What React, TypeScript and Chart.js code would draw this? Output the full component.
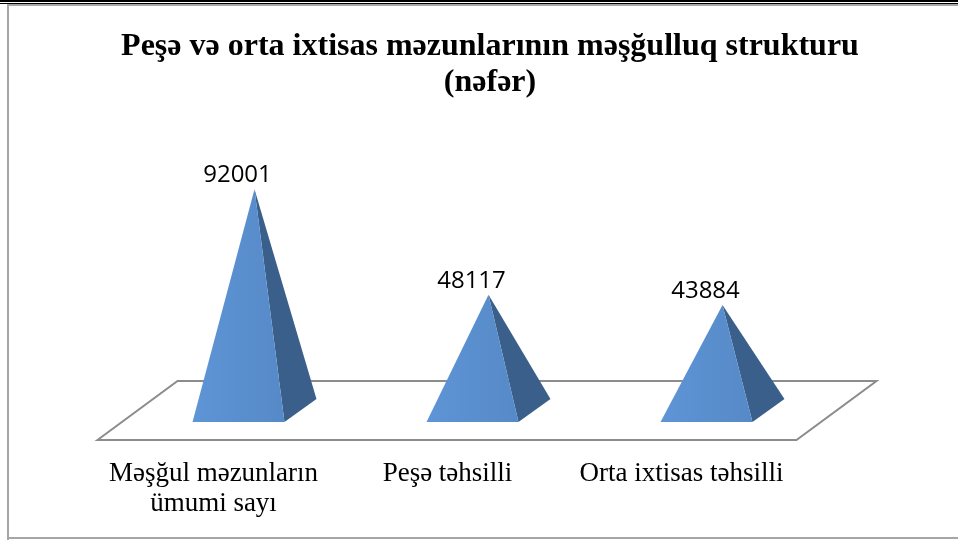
import React, { useEffect, useRef } from "react";
import { Chart, registerables } from "chart.js";

Chart.register(...registerables);

const titleLines = ["Peşə və orta ixtisas məzunlarının məşğulluq strukturu", "(nəfər)"];
const categories = [["Məşğul məzunların", "ümumi sayı"], "Peşə təhsilli", "Orta ixtisas təhsilli"];
const values = [92001, 48117, 43884];

const SIDE = "#3b5f8b";

const framePlugin = {
  id: "frame",
  beforeDraw(chart: any) {
    const { ctx, width, height } = chart;
    ctx.save();
    ctx.fillStyle = "#ffffff";
    ctx.fillRect(0, 0, width, height);
    ctx.fillStyle = "#000000";
    ctx.fillRect(0, 0, width, 2);
    ctx.fillRect(0, 3, width, 1);
    ctx.fillStyle = "#a6a6a6";
    ctx.fillRect(7, 4, width, 2);
    ctx.fillRect(7, 4, 2, height - 4);
    ctx.fillRect(7, height - 3, width, 2);
    ctx.restore();
  },
  beforeDatasetsDraw(chart: any) {
    const { ctx, chartArea } = chart;
    const y0 = chart.scales.y.getPixelForValue(0);
    const cat = (chartArea.right - chartArea.left) / values.length;
    const dx = cat * 0.342 / 2;
    const dy = cat * 0.252 / 2;
    ctx.save();
    ctx.strokeStyle = "#8c8c8c";
    ctx.lineWidth = 2;
    ctx.beginPath();
    ctx.moveTo(chartArea.left - dx, y0 + dy);
    ctx.lineTo(chartArea.left + dx, y0 - dy);
    ctx.lineTo(chartArea.right + dx - 3, y0 - dy);
    ctx.lineTo(chartArea.right - dx - 3, y0 + dy);
    ctx.closePath();
    ctx.stroke();
    ctx.restore();
  },
  afterDatasetsDraw(chart: any) {
    const { ctx } = chart;
    const meta = chart.getDatasetMeta(0);
    ctx.save();
    meta.data.forEach((bar: any, i: number) => {
      const { x, y, base, width } = bar.getProps(["x", "y", "base", "width"], true);
      const dx = width * 0.348 / 2;
      const dy = width * 0.25 / 2;
      const fl = { x: x - width / 2 - dx, y: base + dy };
      const fr = { x: x + width / 2 - dx, y: base + dy };
      const br = { x: x + width / 2 + dx, y: base - dy };
      ctx.fillStyle = SIDE;
      ctx.beginPath();
      ctx.moveTo(x, y);
      ctx.lineTo(fr.x, fr.y);
      ctx.lineTo(br.x, br.y);
      ctx.closePath();
      ctx.fill();
      const g = ctx.createLinearGradient(fl.x, 0, fr.x, 0);
      g.addColorStop(0, "#5e95d6");
      g.addColorStop(1, "#5689c7");
      ctx.fillStyle = g;
      ctx.beginPath();
      ctx.moveTo(x, y);
      ctx.lineTo(fl.x, fl.y);
      ctx.lineTo(fr.x, fr.y);
      ctx.closePath();
      ctx.fill();
      ctx.fillStyle = "#000000";
      ctx.font = "24px 'Open Sans', 'Noto Sans', sans-serif";
      ctx.textAlign = "center";
      ctx.textBaseline = "middle";
      ctx.fillText(String(values[i]), x - 17, y - 14);
    });
    ctx.restore();
  },
};

const hiddenAxis = (position: string, w: number) => ({
  display: true,
  position,
  min: 0,
  max: 100000,
  grid: { display: false, drawTicks: false },
  border: { display: false },
  ticks: { display: false },
  afterFit(scale: any) {
    scale.width = w;
  },
});

export default function App() {
  const ref = useRef<HTMLCanvasElement | null>(null);
  useEffect(() => {
    document.body.style.margin = "0";
    document.body.style.overflow = "hidden";
    const chart = new Chart(ref.current as HTMLCanvasElement, {
      type: "bar",
      data: {
        labels: categories as any,
        datasets: [
          {
            data: values,
            backgroundColor: "rgba(0,0,0,0)",
            borderWidth: 0,
            categoryPercentage: 1,
            barPercentage: 0.393,
            yAxisID: "y",
          },
        ],
      },
      options: {
        responsive: false,
        animation: false,
        layout: { padding: { left: 0, right: 0, top: 0, bottom: 22 } },
        plugins: {
          legend: { display: false },
          tooltip: { enabled: false },
          title: {
            display: true,
            text: titleLines,
            color: "#000000",
            font: { family: "'Liberation Serif', 'Times New Roman', serif", size: 32, weight: "bold", lineHeight: 36 / 32 },
            padding: { top: 29, bottom: 69 },
          },
        },
        scales: {
          x: {
            grid: { display: false, drawTicks: false },
            border: { display: false },
            afterFit(scale: any) {
              scale.height = 107.5;
            },
            ticks: {
              color: "#000000",
              padding: 48.5,
              labelOffset: -41,
              maxRotation: 0,
              autoSkip: false,
              font: { family: "'Liberation Serif', 'Times New Roman', serif", size: 27, lineHeight: 30 / 27 },
            },
          },
          y: hiddenAxis("left", 137.5) as any,
          y2: hiddenAxis("right", 140.5) as any,
        },
      },
      plugins: [framePlugin],
    });
    return () => chart.destroy();
  }, []);
  return (
    <div style={{ position: "fixed", left: 0, top: 0, width: 958, height: 540, overflow: "hidden", background: "#fff" }}>
      <canvas ref={ref} width={980} height={540} style={{ display: "block" }} />
    </div>
  );
}
